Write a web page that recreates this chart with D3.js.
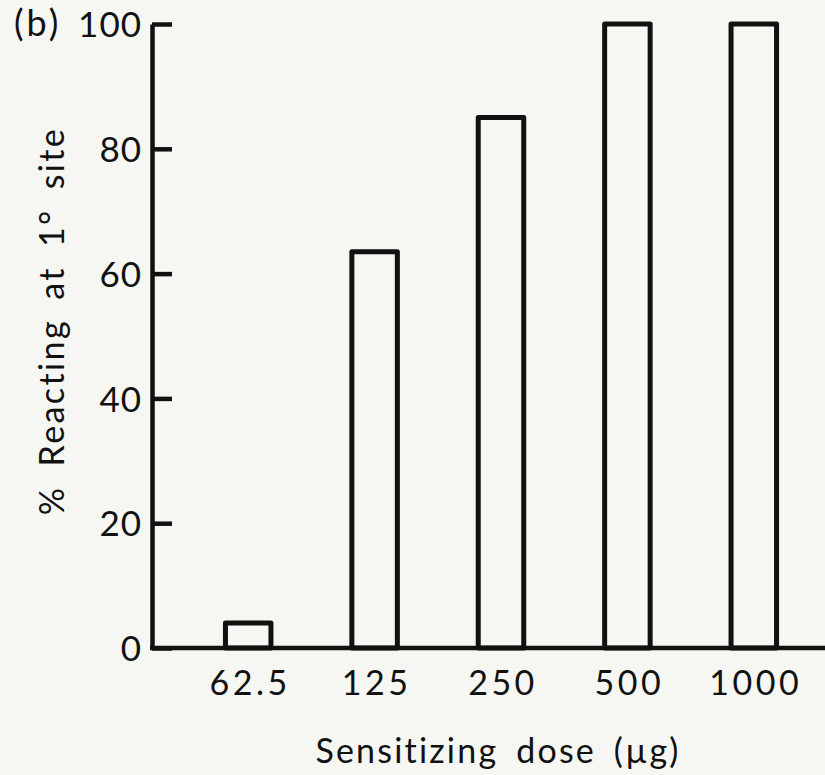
<!DOCTYPE html>
<html>
<head>
<meta charset="utf-8">
<script src="https://cdn.jsdelivr.net/npm/d3@7"></script>
<style>
  body { margin: 0; background: #f6f6f3; }
  svg { display: block; }
  text { font-family: Lato, "Open Sans", sans-serif; fill: #111; }
</style>
</head>
<body>
<div id="chart"></div>
<script>
// data
var doses = ["62.5", "125", "250", "500", "1000"]
var pctReacting = [4, 63.5, 85, 100, 100]
var yTicks = [0, 20, 40, 60, 80, 100]

var width = 825
var height = 775

var svg = d3.select("#chart").append("svg")
  .attr("width", width)
  .attr("height", height)

// scales - axis at x=152, zero line at y=648
var xScale = d3.scaleBand().domain(doses).range([185, 817])
  .paddingInner(0.64).paddingOuter(0.32)
var yScale = d3.scaleLinear().domain([0, 100]).range([648, 24])

var ink = "#111"

// y axis, ticks pointing into the plot
var yAxis = svg.append("g")
  .attr("transform", "translate(152,0)")
  .call(d3.axisLeft(yScale).tickValues(yTicks).tickSizeInner(-20).tickSizeOuter(0).tickPadding(10))
yAxis.select(".domain").attr("stroke", ink).attr("stroke-width", 4.5)
yAxis.selectAll(".tick line").attr("stroke", ink).attr("stroke-width", 4.5)
yAxis.selectAll(".tick text")
  .attr("font-size", "35px")
  .attr("dy", "0.36em")
  .style("letter-spacing", "1px")
  .style("fill", ink)

// x axis: plain baseline plus category labels
svg.append("line")
  .attr("x1", 150).attr("x2", width)
  .attr("y1", yScale(0)).attr("y2", yScale(0))
  .attr("stroke", ink).attr("stroke-width", 4.5)

var xAxis = svg.append("g")
  .attr("transform", "translate(0," + yScale(0) + ")")
  .call(d3.axisBottom(xScale).tickSize(0).tickPadding(23))
xAxis.select(".domain").remove()
xAxis.selectAll(".tick text")
  .attr("font-size", "34px")
  .attr("dx", "2px")
  .style("letter-spacing", "3.5px")
  .style("fill", ink)

// bars (open rectangles)
svg.selectAll(".bar")
  .data(doses)
  .enter().append("rect")
  .attr("class", "bar")
  .attr("x", function(d) { return xScale(d) })
  .attr("width", xScale.bandwidth())
  .attr("y", function(d, i) { return yScale(pctReacting[i]) })
  .attr("height", function(d, i) { return yScale(0) - yScale(pctReacting[i]) })
  .attr("fill", "none")
  .attr("stroke", ink)
  .attr("stroke-width", 5)
  .attr("stroke-linejoin", "round")

// labels
svg.append("text")
  .attr("x", 14).attr("y", 36)
  .attr("font-size", "36px")
  .style("letter-spacing", "3px")
  .text("(b)")

svg.append("text")
  .attr("transform", "translate(64,321) rotate(-90)")
  .attr("text-anchor", "middle")
  .attr("font-size", "34px")
  .style("letter-spacing", "2.4px")
  .style("word-spacing", "8px")
  .text("% Reacting at 1° site")

svg.append("text")
  .attr("x", 498).attr("y", 763)
  .attr("text-anchor", "middle")
  .attr("font-size", "34px")
  .style("letter-spacing", "2.2px")
  .style("word-spacing", "7px")
  .text("Sensitizing dose (µg)")
</script>
</body>
</html>
